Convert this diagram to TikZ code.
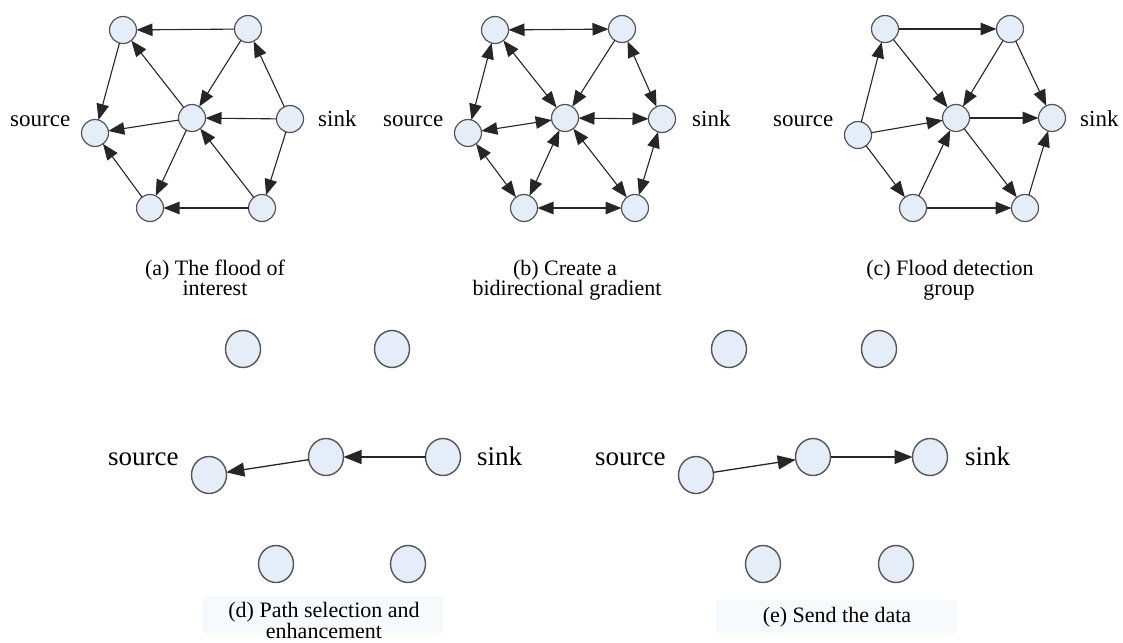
\documentclass[tikz,border=0pt]{standalone}
\usepackage{fontspec}
\setmainfont{Liberation Serif}
\newfontfamily\capfont{Liberation Serif}
\usetikzlibrary{arrows.meta,shapes.geometric}
\definecolor{nodefill}{HTML}{E4EDF8}
\definecolor{nodeline}{HTML}{555555}
\definecolor{edgecol}{HTML}{262626}
\definecolor{capbg}{HTML}{F7FAFD}
\begin{document}
\begin{tikzpicture}[x=1pt,y=-1pt,
 small/.style={circle,draw=nodeline,fill=nodefill,line width=1.2pt,minimum size=27pt,inner sep=0pt,outer sep=0pt},
 big/.style={ellipse,draw=nodeline,fill=nodefill,line width=1.4pt,minimum width=35pt,minimum height=37pt,inner sep=0pt,outer sep=0pt},
 uni/.style={draw=edgecol,line width=1.1pt,-{Triangle[length=16pt,width=12.5pt]}},
 bi/.style={draw=edgecol,line width=1.1pt,{Triangle[length=16pt,width=12.5pt]}-{Triangle[length=16pt,width=12.5pt]}},
 uniL/.style={draw=edgecol,line width=1.3pt,-{Triangle[length=18pt,width=14pt]}},
 lab/.style={anchor=base west,inner sep=0pt,font=\capfont\fontsize{23}{27}\selectfont},
 labL/.style={anchor=base west,inner sep=0pt,font=\capfont\fontsize{27}{32}\selectfont},
 captext/.style={anchor=base,inner sep=0pt,font=\capfont\fontsize{22}{26}\selectfont},
]
\fill[white] (0,0) rectangle (1123,642);
\useasboundingbox (0,0) rectangle (1123,642);
% faint caption backgrounds
\fill[capbg] (203,596) rectangle (443,633);
\fill[capbg] (716,600) rectangle (957,633);

% ---------- (a) ----------
\node[small] (a1) at (123,30) {};
\node[small] (a2) at (248,29) {};
\node[small] (a3) at (95,133) {};
\node[small] (a4) at (192,118) {};
\node[small] (a5) at (290,119) {};
\node[small] (a6) at (150,208) {};
\node[small] (a7) at (262,208) {};
\node[lab] (asrc) at (10,126) {source};
\node[lab] (asnk) at (318,126) {sink};
\draw[uni] (a2) -- (a1);
\draw[uni] (a1) -- (a3);
\draw[uni] (a4) -- (a1);
\draw[uni] (a2) -- (a4);
\draw[uni] (a4) -- (a3);
\draw[uni] (a5) -- (a4);
\draw[uni] (a5) -- (a2);
\draw[uni] (a5) -- (a7);
\draw[uni] (a4) -- (a6);
\draw[uni] (a7) -- (a4);
\draw[uni] (a7) -- (a6);
\draw[uni] (a6) -- (a3);
\node[captext] (capa1) at (215,275) {(a) The flood of};
\node[captext] (capa2) at (215,295) {interest};

% ---------- (b) ----------
\node[small] (b1) at (495,30) {};
\node[small] (b2) at (622,29) {};
\node[small] (b3) at (468,133) {};
\node[small] (b4) at (565,118) {};
\node[small] (b5) at (662,119) {};
\node[small] (b6) at (524,208) {};
\node[small] (b7) at (635,208) {};
\node[lab] (bsrc) at (383,126) {source};
\node[lab] (bsnk) at (692,126) {sink};
\draw[bi] (b1) -- (b2);
\draw[bi] (b1) -- (b3);
\draw[bi] (b1) -- (b4);
\draw[uni] (b2) -- (b4);
\draw[bi] (b2) -- (b5);
\draw[bi] (b3) -- (b4);
\draw[bi] (b4) -- (b5);
\draw[bi] (b4) -- (b6);
\draw[bi] (b4) -- (b7);
\draw[bi] (b3) -- (b6);
\draw[bi] (b6) -- (b7);
\draw[bi] (b5) -- (b7);
\node[captext] (capb1) at (565,275) {(b) Create a};
\node[captext] (capb2) at (567,295) {bidirectional gradient};

% ---------- (c) ----------
\node[small] (c1) at (885,29) {};
\node[small] (c2) at (1010,29) {};
\node[small] (c3) at (858,135) {};
\node[small] (c4) at (956,118) {};
\node[small] (c5) at (1052,118) {};
\node[small] (c6) at (913,208) {};
\node[small] (c7) at (1025,208) {};
\node[lab] (csrc) at (773,126) {source};
\node[lab] (csnk) at (1080,126) {sink};
\draw[uni] (c1) -- (c2);
\draw[uni] (c3) -- (c1);
\draw[uni] (c1) -- (c4);
\draw[uni] (c2) -- (c4);
\draw[uni] (c2) -- (c5);
\draw[uni] (c3) -- (c4);
\draw[uni] (c4) -- (c5);
\draw[uni] (c3) -- (c6);
\draw[uni] (c6) -- (c4);
\draw[uni] (c4) -- (c7);
\draw[uni] (c6) -- (c7);
\draw[uni] (c7) -- (c5);
\node[captext] (capc1) at (950,275) {(c) Flood detection};
\node[captext] (capc2) at (949,295) {group};

% ---------- (d) ----------
\node[big] (d1) at (243,349) {};
\node[big] (d2) at (392,349) {};
\node[big] (d3) at (209,475) {};
\node[big] (d4) at (326,457) {};
\node[big] (d5) at (443,457) {};
\node[big] (d6) at (276,564) {};
\node[big] (d7) at (408,564) {};
\node[labL] (dsrc) at (108,465) {source};
\node[labL] (dsnk) at (477,465) {sink};
\draw[uniL] (d5) -- (d4);
\draw[uniL] (d4) -- (d3);
\node[captext] (capd1) at (324,617) {(d) Path selection and};
\node[captext] (capd2) at (324,638) {enhancement};

% ---------- (e) ----------
\node[big] (e1) at (729,349) {};
\node[big] (e2) at (879,349) {};
\node[big] (e3) at (696,475) {};
\node[big] (e4) at (813,457) {};
\node[big] (e5) at (930,457) {};
\node[big] (e6) at (763,564) {};
\node[big] (e7) at (896,564) {};
\node[labL] (esrc) at (595,465) {source};
\node[labL] (esnk) at (965,465) {sink};
\draw[uniL] (e3) -- (e4);
\draw[uniL] (e4) -- (e5);
\node[captext] (cape1) at (837,622) {(e) Send the data};
\end{tikzpicture}
\end{document}
